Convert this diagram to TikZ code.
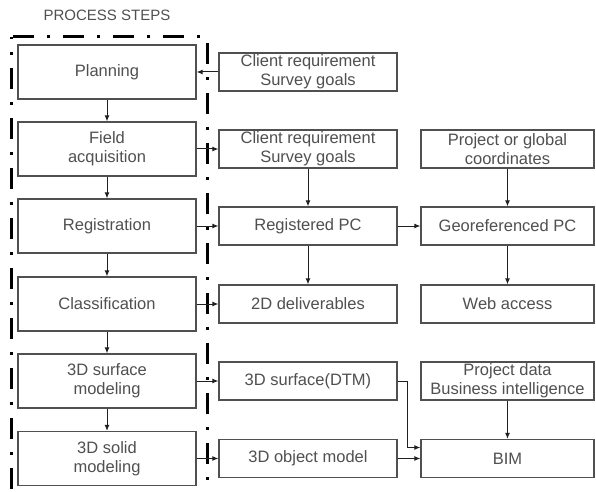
\documentclass[tikz,border=0pt]{standalone}
\usepackage{fontspec}
\setmainfont{Liberation Sans}
\usetikzlibrary{arrows.meta}
\definecolor{txt}{HTML}{505050}
\definecolor{bord}{HTML}{505050}
\definecolor{arr}{HTML}{202020}
\tikzset{
  box/.style={draw=bord, line width=1.3bp, fill=white, text=txt, align=center,
    font=\fontsize{16.5bp}{19bp}\selectfont, inner sep=0pt},
  stepbox/.style={box, minimum width=178bp, minimum height=54bp},
  midbox/.style={box, minimum width=178bp, minimum height=38bp},
  rbox/.style={box, minimum width=173bp, minimum height=38bp},
  conn/.style={draw=arr, line width=1bp, -{Latex[length=6bp,width=5bp]}},
  frame/.style={draw=black, line width=3bp, dash pattern=on 21bp off 13bp on 3bp off 13bp, dash phase=19bp}
}
\begin{document}
\begin{tikzpicture}[x=1bp,y=-1bp]
\useasboundingbox (0,0) rectangle (596,492);
\node[text=txt, font=\fontsize{15bp}{17bp}\selectfont] (title) at (107,15) {PROCESS STEPS};
\draw[frame] (11,37) rectangle (207,493);
% left column
\node[stepbox] (plan) at (107,72) {Planning};
\node[stepbox] (field) at (107,149) {Field\\acquisition};
\node[stepbox] (reg) at (107,226) {Registration};
\node[stepbox] (cls) at (107,304) {Classification};
\node[stepbox] (surf) at (107,381) {3D surface\\modeling};
\node[stepbox] (solid) at (107,458.5) {3D solid\\modeling};
% middle column
\node[midbox] (cr1) at (308,72) {Client requirement\\Survey goals};
\node[midbox] (cr2) at (308,149) {Client requirement\\Survey goals};
\node[midbox] (rpc) at (308,226) {Registered PC};
\node[midbox] (d2) at (308,304) {2D deliverables};
\node[midbox] (dtm) at (308,381) {3D surface(DTM)};
\node[midbox] (obj) at (308,458.5) {3D object model};
% right column
\node[rbox] (coord) at (507.5,149) {Project or global\\coordinates};
\node[rbox] (geo) at (507.5,226) {Georeferenced PC};
\node[rbox] (web) at (507.5,304) {Web access};
\node[rbox] (pdata) at (507.5,381) {Project data\\Business intelligence};
\node[rbox] (bim) at (507.5,458.5) {BIM};
% vertical connectors
\draw[conn] (plan) -- (field);
\draw[conn] (field) -- (reg);
\draw[conn] (reg) -- (cls);
\draw[conn] (cls) -- (surf);
\draw[conn] (surf) -- (solid);
\draw[conn] (cr2) -- (rpc);
\draw[conn] (rpc) -- (d2);
\draw[conn] (coord) -- (geo);
\draw[conn] (geo) -- (web);
\draw[conn] (pdata) -- (bim);
% horizontal connectors
\draw[conn] (cr1) -- (plan);
\draw[conn] (field) -- (cr2);
\draw[conn] (reg) -- (rpc);
\draw[conn] (cls) -- (d2);
\draw[conn] (surf) -- (dtm);
\draw[conn] (solid) -- (obj);
\draw[conn] (rpc) -- (geo);
\draw[conn] (obj) -- (bim);
\draw[conn] (dtm.east) -- (407,381) |- ([yshift=11bp]bim.west);
\end{tikzpicture}
\end{document}
